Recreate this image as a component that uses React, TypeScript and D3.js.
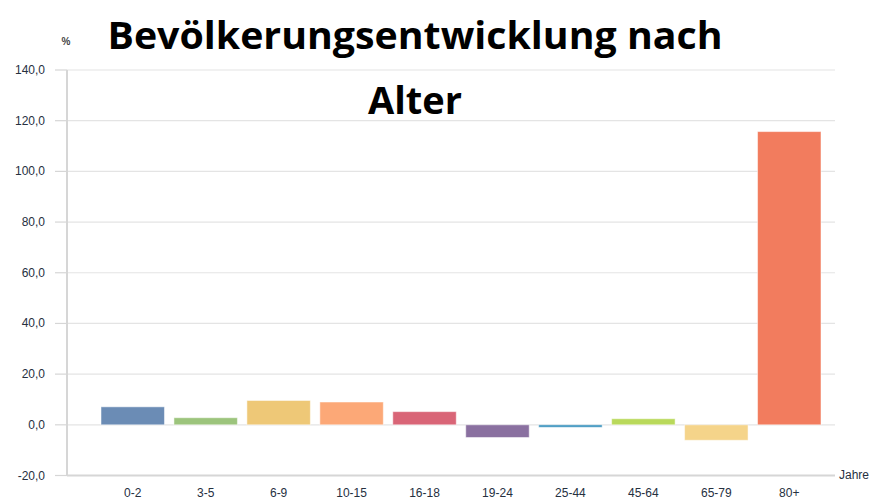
import React, { useEffect, useRef } from 'react';
import * as d3 from 'd3';

const categories = ['0-2', '3-5', '6-9', '10-15', '16-18', '19-24', '25-44', '45-64', '65-79', '80+'];
const values = [7.1, 2.8, 9.6, 9.0, 5.2, -5.0, -0.8, 2.4, -6.1, 115.7];
const colors = ['#6b8cb5', '#9cc47c', '#eec877', '#fca877', '#d96577', '#8a70a0', '#3f96bf', '#b9d95b', '#f5d48a', '#f27c5e'];
const yTicks = [-20, 0, 20, 40, 60, 80, 100, 120, 140];

const App = () => {
    const svgRef = useRef<SVGSVGElement>(null);

    useEffect(() => {
        const svg = d3.select(svgRef.current);
        svg.selectAll('*').remove();

        const axisX = 67;
        const gridEnd = 835;
        const labelFont = 'Liberation Sans, Arial, sans-serif';

        const x = d3.scaleBand().domain(categories).range([101, 821]).paddingInner(0.13);
        const y = d3.scaleLinear().domain([-20, 140]).range([475.5, 70]);

        // gridlines
        svg.append('g')
            .selectAll('line')
            .data(yTicks.filter(t => t !== -20))
            .enter()
            .append('line')
            .attr('x1', axisX)
            .attr('x2', gridEnd)
            .attr('y1', d => y(d))
            .attr('y2', d => y(d))
            .attr('stroke', '#e4e4e4')
            .attr('stroke-width', 1.2);

        // tick marks + labels
        const ty = svg.append('g');
        ty.selectAll('line')
            .data(yTicks)
            .enter()
            .append('line')
            .attr('x1', 55)
            .attr('x2', axisX)
            .attr('y1', d => y(d))
            .attr('y2', d => y(d))
            .attr('stroke', '#d6d6d6')
            .attr('stroke-width', 1.2);
        ty.selectAll('text')
            .data(yTicks)
            .enter()
            .append('text')
            .attr('x', 45)
            .attr('y', d => y(d) + 4)
            .attr('text-anchor', 'end')
            .attr('font-family', labelFont)
            .attr('font-size', 12)
            .attr('fill', '#26303f')
            .text(d => d.toFixed(1).replace('.', ','));

        // bars
        svg.append('g')
            .selectAll('rect')
            .data(values)
            .enter()
            .append('rect')
            .attr('x', (d, i) => x(categories[i])!)
            .attr('y', d => y(Math.max(0, d)))
            .attr('width', x.bandwidth())
            .attr('height', d => Math.max(2.5, Math.abs(y(d) - y(0))))
            .attr('fill', (d, i) => colors[i])
            .attr('stroke', '#ffffff')
            .attr('stroke-opacity', 0.5)
            .attr('stroke-width', 1);

        // axes lines
        svg.append('line')
            .attr('x1', axisX).attr('x2', axisX)
            .attr('y1', y(140)).attr('y2', y(-20))
            .attr('stroke', '#d6d6d6').attr('stroke-width', 2);
        svg.append('line')
            .attr('x1', axisX).attr('x2', gridEnd)
            .attr('y1', y(-20)).attr('y2', y(-20))
            .attr('stroke', '#d6d6d6').attr('stroke-width', 2);

        // x labels
        svg.append('g')
            .selectAll('text')
            .data(categories)
            .enter()
            .append('text')
            .attr('x', d => x(d)! + x.bandwidth() / 2)
            .attr('y', 497)
            .attr('text-anchor', 'middle')
            .attr('font-family', labelFont)
            .attr('font-size', 12)
            .attr('fill', '#26303f')
            .text(d => d);

        svg.append('text')
            .attr('x', 839).attr('y', 479)
            .attr('font-family', labelFont)
            .attr('font-size', 12)
            .attr('fill', '#26303f')
            .text('Jahre');

        svg.append('text')
            .attr('x', 66).attr('y', 45)
            .attr('text-anchor', 'middle')
            .attr('font-family', labelFont)
            .attr('font-size', 10)
            .attr('font-weight', 'bold')
            .attr('fill', '#444')
            .text('%');

        // title
        svg.append('text')
            .attr('x', 415).attr('y', 49)
            .attr('text-anchor', 'middle')
            .attr('font-family', 'Open Sans, Liberation Sans, sans-serif')
            .attr('font-size', 38)
            .attr('font-weight', 'bold')
            .attr('fill', '#000')
            .attr('textLength', 615)
            .attr('lengthAdjust', 'spacingAndGlyphs')
            .text('Bevölkerungsentwicklung nach');
        svg.append('text')
            .attr('x', 415).attr('y', 114)
            .attr('text-anchor', 'middle')
            .attr('font-family', 'Open Sans, Liberation Sans, sans-serif')
            .attr('font-size', 38)
            .attr('font-weight', 'bold')
            .attr('fill', '#000')
            .text('Alter');
    }, []);

    return (
        <svg ref={svgRef} width={874} height={500} style={{ position: 'absolute', left: 0, top: 0, background: '#fff' }} />
    );
};

export default App;
